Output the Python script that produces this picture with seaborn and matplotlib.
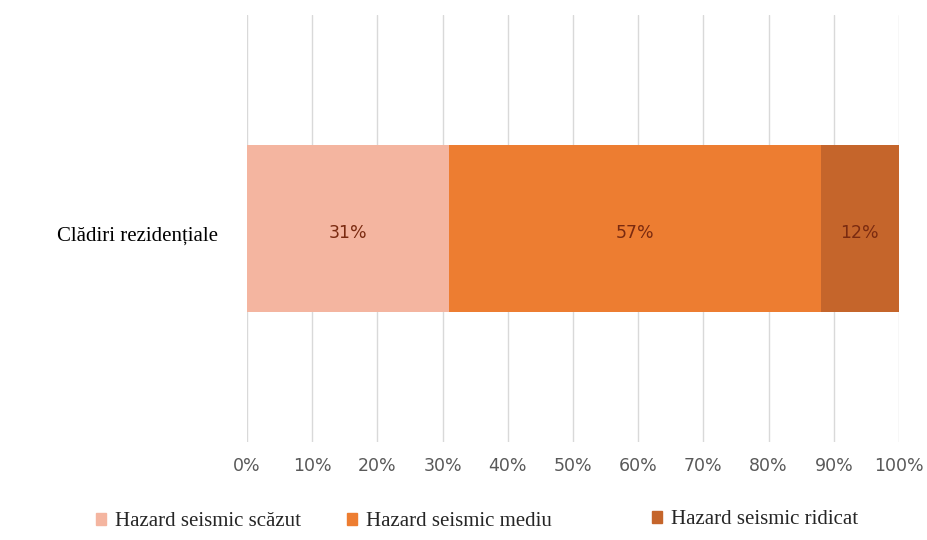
import matplotlib
matplotlib.use("Agg")
import matplotlib.pyplot as plt
import matplotlib.patches as mpatches
import matplotlib.transforms as mtransforms
import seaborn as sns
import pandas as pd
import numpy as np

category = ["Clădiri rezidențiale"]
series = ["Hazard seismic scăzut", "Hazard seismic mediu", "Hazard seismic ridicat"]
values = [31, 57, 12]
colors = ["#F4B5A0", "#ED7D31", "#C5652B"]
xticks = [0, 10, 20, 30, 40, 50, 60, 70, 80, 90, 100]

sns.set_theme(style="white")
plt.rcParams["font.family"] = ["Liberation Serif", "DejaVu Serif"]

fig = plt.figure(figsize=(9.27, 5.4), dpi=100)
ax = fig.add_axes([247 / 927, 1 - 442 / 540, 652 / 927, 427 / 540])

cum = np.cumsum(values)
# draw cumulative bars from the longest to the shortest so they stack visually
for i in reversed(range(len(series))):
    df = pd.DataFrame({"cat": category, "val": [cum[i]]})
    sns.barplot(data=df, x="val", y="cat", orient="h", color=colors[i],
                width=0.39, saturation=1, linewidth=0, ax=ax, zorder=2)

starts = np.concatenate([[0], cum[:-1]])
for s, v in zip(starts, values):
    ax.text(s + v / 2, 0.01, f"{v}%", ha="center", va="center",
            fontsize=12.5, color="#7A2A10", family="DejaVu Sans")

ax.set_xlim(0, 100)
ax.set_ylim(0.5, -0.5)
ax.set_xticks(xticks)
ax.set_xticklabels([f"{t}%" for t in xticks], fontsize=12.5, color="#595959",
                   family="DejaVu Sans")
ax.tick_params(axis="x", length=0, pad=11)
ax.tick_params(axis="y", length=0, pad=21, labelsize=15, labelcolor="black")
shift = mtransforms.ScaledTranslation(0, -8 / 100, fig.dpi_scale_trans)
for lbl in ax.get_yticklabels():
    lbl.set_va("center")
    lbl.set_transform(lbl.get_transform() + shift)
ax.set_xlabel("")
ax.set_ylabel("")
ax.grid(axis="x", color="#D9D9D9", linewidth=1, zorder=0)
ax.set_axisbelow(True)
for sp in ax.spines.values():
    sp.set_visible(False)

legend_x = [96, 347, 652]
legend_y = [522, 522, 520]
for c, l, lx, ly in zip(colors, series, legend_x, legend_y):
    leg = fig.legend(handles=[mpatches.Patch(color=c, label=l)], loc="center left",
                     bbox_to_anchor=(lx / 927, 1 - ly / 540), frameon=False,
                     fontsize=15, handlelength=0.5, handleheight=0.5,
                     handletextpad=0.4, borderpad=0, borderaxespad=0)

fig.savefig("out.png", dpi=100)
